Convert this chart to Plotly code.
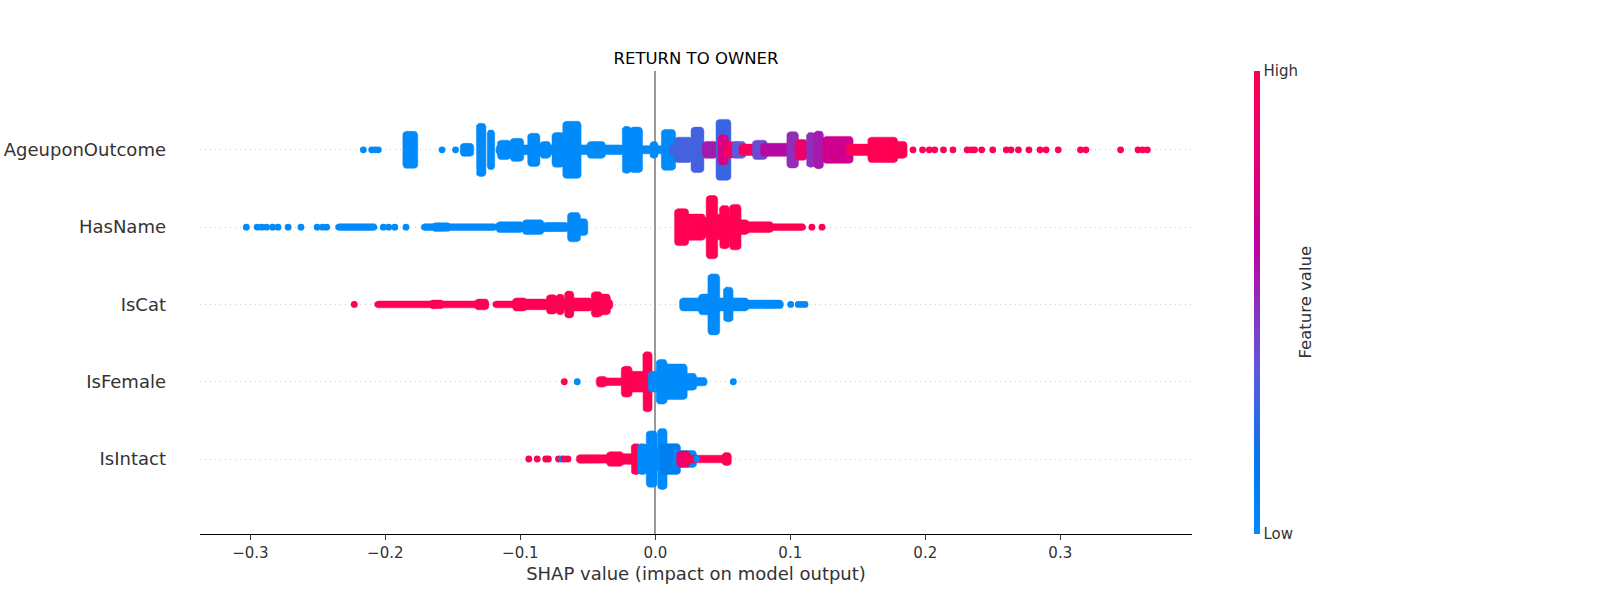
import plotly.graph_objects as go
from plotly.colors import sample_colorscale

# rows bottom -> top, like shap's summary plot
features = ["IsIntact", "IsFemale", "IsCat", "HasName", "AgeuponOutcome"]

# blobs of stacked points: (shap from, shap to, vertical spread, feature value 0..1)
age_blobs = [
    (-0.1845, -0.1785, 0.195, 0), (-0.1420, -0.1370, 0.04, 0),
    (-0.1300, -0.1280, 0.30, 0), (-0.1220, -0.1215, 0.215, 0),
    (-0.1155, -0.0260, 0.02, 0), (-0.1145, -0.1095, 0.08, 0),
    (-0.1050, -0.1000, 0.105, 0), (-0.0920, -0.0880, 0.17, 0),
    (-0.0830, -0.0800, 0.065, 0), (-0.0740, -0.0700, 0.18, 0),
    (-0.0660, -0.0575, 0.325, 0), (-0.0480, -0.0395, 0.065, 0),
    (-0.0220, -0.0205, 0.26, 0), (-0.0165, -0.0120, 0.25, 0),
    (-0.0260, 0.0050, 0.01, 0), (-0.0015, -0.0005, 0.065, 0),
    (0.0070, 0.0125, 0.22, 0), (0.0125, 0.0470, 0.02, 0.3),
    (0.0165, 0.0250, 0.12, 0.3), (0.0290, 0.0335, 0.25, 0.3),
    (0.0375, 0.0435, 0.065, 0.55), (0.0475, 0.0535, 0.35, 0.28),
    (0.0490, 0.0515, 0.15, 0.75), (0.0535, 0.0600, 0.06, 0.9),
    (0.0595, 0.0645, 0.065, 0.35), (0.0645, 0.0745, 0.03, 0.95),
    (0.0745, 0.0805, 0.08, 0.4), (0.0805, 0.1000, 0.04, 0.6),
    (0.1000, 0.1035, 0.19, 0.5), (0.1060, 0.1100, 0.09, 0.85),
    (0.1145, 0.1160, 0.18, 0.5), (0.1200, 0.1220, 0.20, 0.55),
    (0.1265, 0.1440, 0.13, 0.7), (0.1440, 0.1600, 0.03, 1),
    (0.1600, 0.1770, 0.12, 1), (0.1770, 0.1840, 0.065, 1),
]
age_dots = [-0.2163, -0.2101, -0.2075, -0.2052, -0.158, -0.148,
            0.1909, 0.198, 0.203, 0.207, 0.2135, 0.2205, 0.231, 0.234,
            0.2365, 0.2418, 0.25, 0.26, 0.2635, 0.269, 0.2768, 0.285,
            0.2895, 0.2985, 0.315, 0.319, 0.3447, 0.3576, 0.361, 0.3645]
age_dot_vals = [0, 0, 0, 0, 0, 0] + [1] * 24

hasname_blobs = [
    (-0.2345, -0.2085, 0.0, 0), (-0.1710, -0.1195, 0.0, 0),
    (-0.1630, -0.1540, 0.012, 0), (-0.1155, -0.1000, 0.025, 0),
    (-0.0960, -0.0850, 0.05, 0), (-0.1000, -0.0600, 0.01, 0),
    (-0.0810, -0.0670, 0.015, 0), (-0.0625, -0.0580, 0.145, 0),
    (-0.0580, -0.0525, 0.065, 0),
    (0.0168, 0.0222, 0.195, 1), (0.0222, 0.0346, 0.125, 1),
    (0.0346, 0.0402, 0.08, 1), (0.0402, 0.0437, 0.365, 1),
    (0.0437, 0.0500, 0.12, 1), (0.0501, 0.0524, 0.235, 1),
    (0.0524, 0.0575, 0.10, 1), (0.0575, 0.0610, 0.25, 1),
    (0.0610, 0.0670, 0.05, 1), (0.0670, 0.0850, 0.025, 1),
    (0.0850, 0.1090, 0.0, 1),
]
hasname_dots = [-0.303, -0.295, -0.2915, -0.288, -0.2835, -0.2795, -0.272,
                -0.2625, -0.2505, -0.2465, -0.2435, -0.2015, -0.1975,
                -0.193, -0.1847, 0.116, 0.1235]
hasname_dot_vals = [0] * 15 + [1, 1]

iscat_blobs = [
    (-0.2055, -0.1259, 0.0, 1), (-0.1650, -0.1590, 0.012, 1),
    (-0.1313, -0.1259, 0.025, 1), (-0.1180, -0.1032, 0.0, 1),
    (-0.1032, -0.0975, 0.04, 1), (-0.0975, -0.0826, 0.025, 1),
    (-0.0826, -0.0340, 0.02, 1), (-0.0782, -0.0752, 0.08, 1),
    (-0.0708, -0.0700, 0.09, 1), (-0.0647, -0.0629, 0.13, 1),
    (-0.0610, -0.0490, 0.04, 1), (-0.0449, -0.0419, 0.12, 1),
    (-0.0397, -0.0358, 0.09, 1),
    (0.0205, 0.0346, 0.04, 0), (0.0346, 0.0393, 0.09, 0),
    (0.0415, 0.0452, 0.35, 0), (0.0452, 0.0530, 0.04, 0),
    (0.0530, 0.0551, 0.18, 0), (0.0551, 0.0667, 0.04, 0),
    (0.0667, 0.0924, 0.012, 0),
]
iscat_dots = [-0.223, 0.1003, 0.1059, 0.1085, 0.1109]
iscat_dot_vals = [1, 0, 0, 0, 0]

isfemale_blobs = [
    (-0.0412, -0.0382, 0.025, 1), (-0.0382, -0.0249, 0.005, 1),
    (-0.0227, -0.0197, 0.155, 1), (-0.0197, -0.0060, 0.09, 1),
    (-0.0067, -0.0049, 0.345, 1),
    (-0.0027, 0.0010, 0.09, 0), (0.0032, 0.0062, 0.245, 0),
    (0.0062, 0.0211, 0.185, 0), (0.0211, 0.0281, 0.065, 0),
    (0.0281, 0.0359, 0.012, 0),
]
isfemale_dots = [-0.0674, -0.0578, 0.0578]
isfemale_dot_vals = [1, 0, 0]

isintact_blobs = [
    (-0.0560, -0.0358, 0.012, 1), (-0.0336, -0.0261, 0.05, 1),
    (-0.0261, -0.0175, 0.025, 1), (-0.0153, -0.0135, 0.155, 1),
    (-0.0106, -0.0086, 0.155, 0), (-0.0086, -0.0042, 0.09, 0),
    (-0.0042, -0.0012, 0.32, 0), (-0.0012, 0.0042, 0.10, 0),
    (0.0042, 0.0062, 0.35, 0), (0.0062, 0.0161, 0.155, 0.1),
    (0.0161, 0.0280, 0.065, 0),
    (0.0183, 0.0233, 0.06, 0.85), (0.0233, 0.0515, 0.005, 1),
    (0.0520, 0.0538, 0.04, 1),
]
isintact_dots = [-0.0937, -0.0875, -0.0812, -0.0792, -0.0717, -0.0693,
                 -0.0675, -0.0647, 0.0307]
isintact_dot_vals = [1, 1, 1, 1, 1, 0, 1, 1, 0]

# shap's red_blue map (approximated)
RED_BLUE = [[0.0, "rgb(0,138,250)"], [0.15, "rgb(0,120,235)"],
            [0.35, "rgb(90,90,220)"], [0.5, "rgb(145,45,185)"],
            [0.62, "rgb(190,0,160)"], [0.8, "rgb(228,0,120)"],
            [1.0, "rgb(255,0,82)"]]

W, H = 1600, 600
ML, MR, MT, MB = 200, 408, 71, 66
XR = [-0.3373, 0.3976]
YR = [-0.97, 5.02]
DOT = 6.8  # px diameter of one point

# px per data unit, to round the ends of a blob with the dot radius
PX_X = (W - ML - MR) / (XR[1] - XR[0])
PX_Y = (H - MT - MB) / (YR[1] - YR[0])
ARC = [(1.0, 0.0), (0.92, 0.38), (0.71, 0.71), (0.38, 0.92), (0.0, 1.0)]


def blob_outline(lo, hi, yc, s):
    rx = DOT / 2 / PX_X
    ry = DOT / 2 / PX_Y
    xs, ys = [], []
    for c, sn in ARC:
        xs.append(hi + rx * c); ys.append(yc + s + ry * sn)
    for c, sn in reversed(ARC):
        xs.append(lo - rx * c); ys.append(yc + s + ry * sn)
    for c, sn in ARC:
        xs.append(lo - rx * c); ys.append(yc - s - ry * sn)
    for c, sn in reversed(ARC):
        xs.append(hi + rx * c); ys.append(yc - s - ry * sn)
    xs.append(xs[0]); ys.append(ys[0])
    return xs, ys


rows = [
    (isintact_blobs, isintact_dots, isintact_dot_vals),
    (isfemale_blobs, isfemale_dots, isfemale_dot_vals),
    (iscat_blobs, iscat_dots, iscat_dot_vals),
    (hasname_blobs, hasname_dots, hasname_dot_vals),
    (age_blobs, age_dots, age_dot_vals),
]

fig = go.Figure()

for r, (blobs, dots, vals) in enumerate(rows):
    for lo, hi, s, v in blobs:
        col = sample_colorscale(RED_BLUE, [v])[0]
        bx, by = blob_outline(lo, hi, r, s)
        fig.add_trace(go.Scatter(
            x=bx, y=by, mode="lines", fill="toself", fillcolor=col,
            line=dict(color=col, width=0.5),
            hoverinfo="skip", showlegend=False))
    fig.add_trace(go.Scatter(
        x=dots, y=[r] * len(dots), mode="markers", showlegend=False,
        marker=dict(size=DOT, color=vals, colorscale=RED_BLUE, cmin=0, cmax=1,
                    line=dict(width=0), showscale=(r == 4),
                    colorbar=dict(
                        x=1.0625, xanchor="left", xpad=0, ypad=0,
                        y=0.5, yanchor="middle", len=1, lenmode="fraction",
                        thickness=6, outlinewidth=0, ticks="",
                        tickvals=[0, 1], ticktext=["Low", "High"],
                        tickfont=dict(size=15, color="#333333")))))

fig.add_annotation(text="Feature value", xref="paper", yref="paper",
                   x=(1305 - ML) / (W - ML - MR), y=0.5, textangle=-90,
                   showarrow=False, xanchor="center", yanchor="middle",
                   font=dict(size=16.5, color="#333333"))

fig.update_layout(
    width=W, height=H,
    margin=dict(l=ML, r=MR, t=MT, b=MB, autoexpand=False),
    plot_bgcolor="white", paper_bgcolor="white",
    font=dict(family="DejaVu Sans", color="#333333"),
    title=dict(text="RETURN TO OWNER", x=0.5, xref="paper", xanchor="center",
               y=1 - 58 / H, yref="container", yanchor="middle",
               font=dict(size=16.5, color="black")),
    xaxis=dict(range=XR, tick0=0, dtick=0.1, tickformat=".1f",
               automargin=False,
               showgrid=False, zeroline=True, zerolinecolor="#999999",
               zerolinewidth=1.5, showline=True, linecolor="black",
               linewidth=1, ticks="outside", ticklen=5, tickcolor="#333333",
               tickfont=dict(size=15, color="#333333"),
               title=dict(text="SHAP value (impact on model output)",
                          font=dict(size=18, color="#333333"), standoff=6)),
    yaxis=dict(range=YR, tickvals=list(range(len(features))),
               ticktext=features, showgrid=True, gridcolor="#cccccc",
               automargin=False,
               gridwidth=0.7, griddash="1px,4px", zeroline=False,
               showline=False, ticks="", ticklabelstandoff=33,
               tickfont=dict(size=18, color="#333333")),
)

# the page's default body margin would push the figure 8px off
fig.write_html("out.html", config={"displayModeBar": False},
               post_script="document.body.style.margin = '0';")
